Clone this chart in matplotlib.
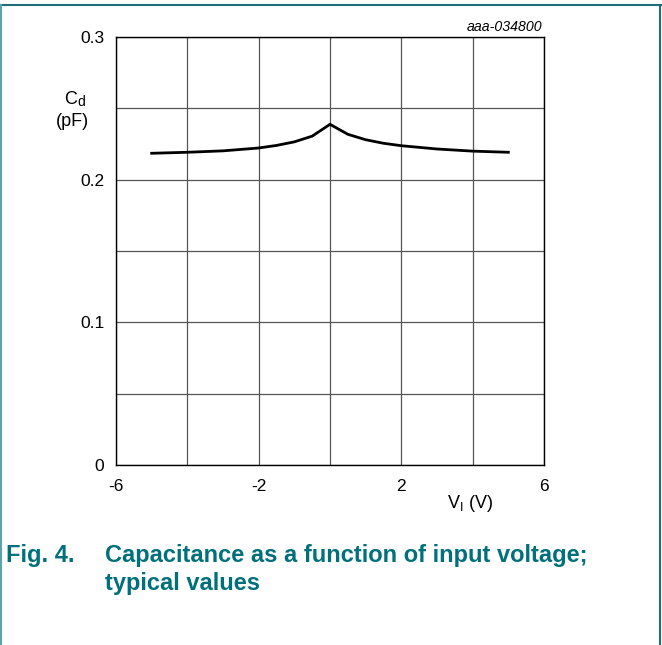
import matplotlib.pyplot as plt
from matplotlib.lines import Line2D
import numpy as np

# Data
voltage = [-5, -4, -3, -2, -1.5, -1, -0.5, 0, 0.5, 1, 1.5, 2, 3, 4, 5]
capacitance = [0.2185, 0.2192, 0.2202, 0.2222, 0.2240, 0.2265, 0.2305, 0.2388,
               0.2318, 0.2280, 0.2255, 0.2238, 0.2215, 0.2200, 0.2192]

x_tick_labels = ['-6', '', '-2', '', '2', '', '6']
y_tick_labels = ['0', '', '0.1', '', '0.2', '', '0.3']

plt.rcParams['font.family'] = ['Liberation Sans', 'DejaVu Sans']

fig = plt.figure(figsize=(6.62, 6.45), dpi=100)
W, H = 662, 645
ax = fig.add_axes([116 / W, 1 - 465 / H, 428 / W, 428 / H])

ax.plot(voltage, capacitance, color='black', linewidth=2)

ax.set_xlim(-6, 6)
ax.set_ylim(0, 0.3)
ax.set_xticks(np.arange(-6, 7, 2))
ax.set_yticks(np.arange(0, 0.31, 0.05))
ax.set_xticklabels(x_tick_labels)
ax.set_yticklabels(y_tick_labels)
ax.tick_params(axis='x', length=0, labelsize=12.5, pad=10)
ax.tick_params(axis='y', length=0, labelsize=12.5, pad=8.5)
ax.grid(True, color='#555555', linewidth=0.9)
for s in ax.spines.values():
    s.set_color('black')
    s.set_linewidth(1.0)

# axis labels (C and subscript d drawn as two texts)
fig.text(77 / W, 1 - 104.5 / H, 'C', ha='right', va='baseline', fontsize=13)
fig.text(77 / W, 1 - 106.5 / H, 'd', ha='left', va='baseline', fontsize=10)
fig.text(72.5 / W, 1 - 126 / H, '(pF)', ha='center', va='baseline', fontsize=13)
fig.text(470 / W, 1 - 508 / H, r'V$_\mathregular{I}$ (V)', ha='center', va='baseline', fontsize=13)
fig.text(542 / W, 1 - 31 / H, 'aaa-034800', ha='right', va='baseline', fontsize=10.2, style='italic')

# caption
teal = '#00707a'
fig.text(6 / W, 1 - 562 / H, 'Fig. 4.', ha='left', va='baseline', fontsize=17,
         fontweight='bold', color=teal)
fig.text(105 / W, 1 - 562 / H, 'Capacitance as a function of input voltage;',
         ha='left', va='baseline', fontsize=17, fontweight='bold', color=teal)
fig.text(105 / W, 1 - 590 / H, 'typical values', ha='left', va='baseline',
         fontsize=17, fontweight='bold', color=teal)

# frame around the figure
fig.add_artist(Line2D([0, 1], [1 - 5 / H, 1 - 5 / H], color='#1d6e76', linewidth=1.5,
                      transform=fig.transFigure))
fig.add_artist(Line2D([1 / W, 1 / W], [0, 1 - 5 / H], color='#5fa3aa', linewidth=1.5,
                      transform=fig.transFigure))
fig.add_artist(Line2D([660 / W, 660 / W], [0, 1 - 5 / H], color='#1d6e76', linewidth=1.5,
                      transform=fig.transFigure))

fig.savefig('out.png', dpi=100)
